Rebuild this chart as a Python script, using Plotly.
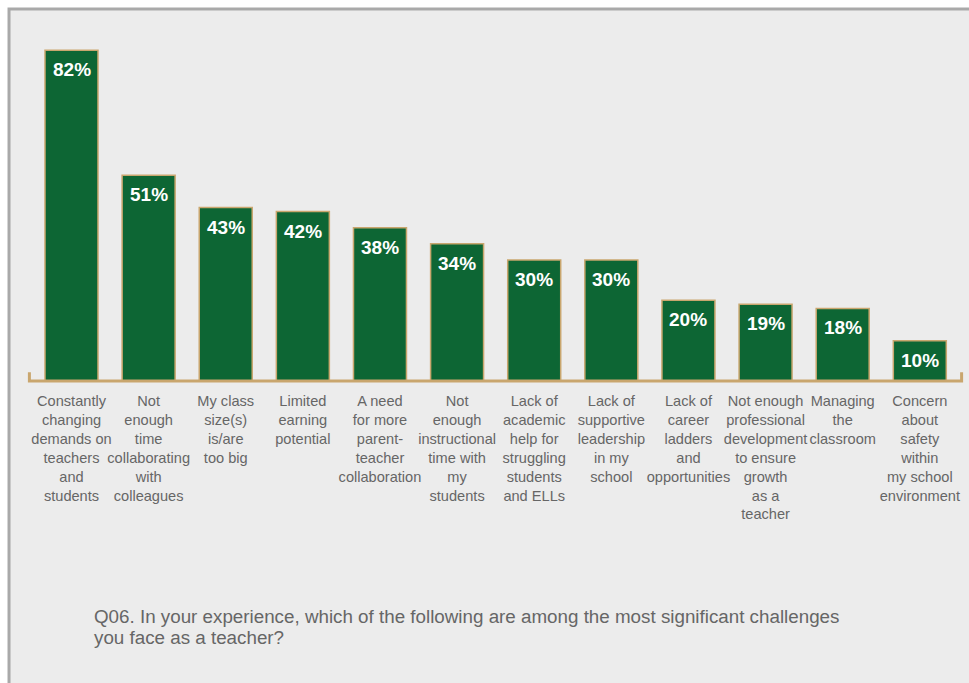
import plotly.graph_objects as go

# Survey results: share of teachers naming each item as a significant challenge
categories = [
    "Constantly<br>changing<br>demands on<br>teachers<br>and<br>students",
    "Not<br>enough<br>time<br>collaborating<br>with<br>colleagues",
    "My class<br>size(s)<br>is/are<br>too big",
    "Limited<br>earning<br>potential",
    "A need<br>for more<br>parent-<br>teacher<br>collaboration",
    "Not<br>enough<br>instructional<br>time with<br>my<br>students",
    "Lack of<br>academic<br>help for<br>struggling<br>students<br>and ELLs",
    "Lack of<br>supportive<br>leadership<br>in my<br>school",
    "Lack of<br>career<br>ladders<br>and<br>opportunities",
    "Not enough<br>professional<br>development<br>to ensure<br>growth<br>as a<br>teacher",
    "Managing<br>the<br>classroom",
    "Concern<br>about<br>safety<br>within<br>my school<br>environment",
]
values = [82, 51, 43, 42, 38, 34, 30, 30, 20, 19, 18, 10]
question_lines = [
    "Q06. In your experience, which of the following are among the most significant challenges",
    "you face as a teacher?",
]

GREEN = "#0d6634"
TAN = "#c9a66e"
GRAY_TEXT = "#666666"
FONT = "Liberation Sans, Arial, sans-serif"

x_pos = list(range(len(values)))

fig = go.Figure()
fig.add_trace(go.Bar(
    x=x_pos,
    y=values,
    marker=dict(color=GREEN, line=dict(color=TAN, width=1.5)),
    hoverinfo="skip",
))

# Percentage labels sitting just inside the top of each bar
for xi, v in zip(x_pos, values):
    fig.add_annotation(
        x=xi, y=v, xref="x", yref="y",
        text=f"<b>{v}%</b>", showarrow=False,
        yanchor="top", yshift=-7,
        font=dict(family=FONT, size=19, color="white"),
    )

# Question caption under the chart, one annotation per line
for i, line in enumerate(question_lines):
    fig.add_annotation(
        x=0.0685, y=-0.614, xref="paper", yref="paper",
        text=line, showarrow=False, xanchor="left", yanchor="top", align="left",
        yshift=-21 * i,
        font=dict(family=FONT, size=18.8, color=GRAY_TEXT),
    )

shapes = [
    # light panel with grey top/left border
    dict(type="rect", xref="paper", yref="paper", x0=-0.0203, x1=1.2, y0=-1.0, y1=1.0248,
         fillcolor="#ececec", line=dict(color="#a9a9a9", width=3), layer="below"),
    # tan baseline bracket
    dict(type="path", xref="paper", yref="paper",
         path="M 0.0015,0.024 L 0.0015,0 L 0.9985,0 L 0.9985,0.024",
         line=dict(color=TAN, width=3), layer="above"),
]

fig.update_layout(
    width=969, height=683,
    margin=dict(l=28, r=6, t=18, b=302),
    paper_bgcolor="white",
    plot_bgcolor="rgba(0,0,0,0)",
    bargap=0.313,
    showlegend=False,
    shapes=shapes,
    xaxis=dict(
        range=[-0.564, 11.56],
        tickvals=x_pos, ticktext=categories,
        tickangle=0,
        ticklabelstandoff=9,
        tickfont=dict(family=FONT, size=14.6, color=GRAY_TEXT),
        showgrid=False, zeroline=False, showline=False, ticks="",
        fixedrange=True,
    ),
    yaxis=dict(range=[0, 90], visible=False, fixedrange=True),
)

fig.write_html("out.html")
